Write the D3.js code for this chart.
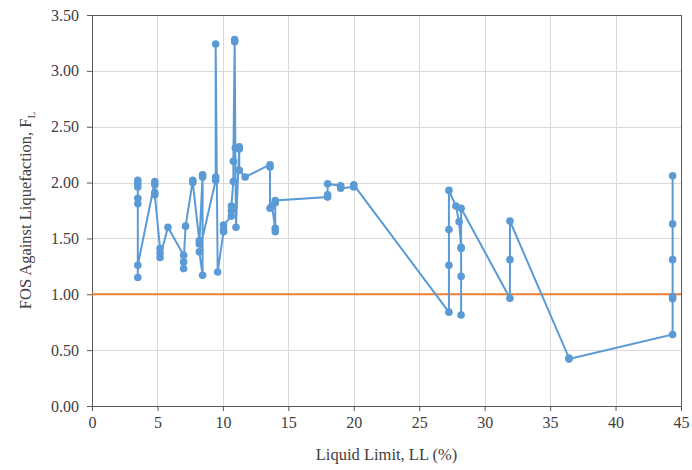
<!DOCTYPE html>
<html>
<head>
<meta charset="utf-8">
<script src="https://cdn.jsdelivr.net/npm/d3@7"></script>
<style>
  body { margin: 0; background: #fff; }
  text { font-family: "Liberation Serif", "Times New Roman", serif; fill: #404040; }
</style>
</head>
<body>
<div id="chart"></div>
<script>
// points in series order (liquid limit, FOS)
var liquidLimit = [
  3.5, 3.5, 3.5, 3.5, 3.5, 3.5, 3.5,
  4.8, 4.8, 4.8, 4.8,
  5.2, 5.2, 5.2,
  5.8,
  7.0, 7.0, 7.0,
  7.15,
  7.7, 7.7,
  8.2, 8.2,
  8.45, 8.45, 8.45,
  8.2,
  9.45, 9.45, 9.45,
  9.6,
  10.05, 10.05, 10.05,
  10.65, 10.65, 10.65,
  10.8, 10.8,
  10.9, 10.9,
  10.95,
  11.0,
  11.25, 11.25, 11.25,
  11.7,
  13.6, 13.6, 13.6,
  13.75,
  14.0, 14.0, 14.0, 14.0,
  18.0, 18.0, 18.0,
  19.0, 19.0,
  20.0, 20.0,
  27.27, 27.27, 27.27, 27.27,
  27.8,
  28.05,
  28.2, 28.2, 28.2, 28.2, 28.2,
  31.93, 31.93, 31.93,
  36.44, 36.44,
  44.36, 44.36, 44.36, 44.36, 44.36, 44.36
];
var fos = [
  2.02, 1.99, 1.96, 1.86, 1.81, 1.15, 1.26,
  2.01, 1.98, 1.91, 1.89,
  1.41, 1.37, 1.33,
  1.60,
  1.35, 1.23, 1.29,
  1.61,
  2.02, 2.00,
  1.48, 1.45,
  2.07, 2.05, 1.17,
  1.38,
  2.02, 2.05, 3.24,
  1.20,
  1.56, 1.58, 1.62,
  1.70, 1.75, 1.79,
  2.01, 2.19,
  3.26, 3.28,
  2.31,
  1.60,
  2.32, 2.30, 2.11,
  2.05,
  2.16, 2.14, 1.77,
  1.79,
  1.59, 1.56, 1.82, 1.84,
  1.87, 1.89, 1.99,
  1.97, 1.95,
  1.96, 1.98,
  0.84, 1.26, 1.58, 1.93,
  1.79,
  1.65,
  1.42, 1.41, 1.16, 0.815, 1.77,
  0.965, 1.31, 1.656,
  0.43, 0.42,
  0.64, 0.96, 0.98, 1.31, 1.63, 2.06
];
var limitFos = 1.0;
var xTicks = [0, 5, 10, 15, 20, 25, 30, 35, 40, 45];
var yTicks = [0, 0.5, 1, 1.5, 2, 2.5, 3, 3.5];

var serif = "'Liberation Serif', 'Times New Roman', serif";
var width = 692,
  height = 470;
var margin = { top: 15, right: 11, bottom: 64, left: 92 };
var graphWidth = width - margin.left - margin.right,
  graphHeight = height - margin.top - margin.bottom;

var data = liquidLimit.map(function (d, i) {
  return { ll: d, fos: fos[i] };
});

var svg = d3.select("#chart").append("svg").attr("width", width).attr("height", height);
var graph = svg
  .append("g")
  .attr("transform", "translate(" + margin.left + "," + margin.top + ")");

var x = d3.scaleLinear().domain([0, 45]).range([0, graphWidth]);
var y = d3.scaleLinear().domain([0, 3.5]).range([graphHeight, 0]);

// gridlines
graph
  .append("g")
  .selectAll("line")
  .data(yTicks)
  .enter()
  .append("line")
  .attr("x1", 0)
  .attr("x2", graphWidth)
  .attr("y1", function (d) { return Math.round(y(d)) + 0.5; })
  .attr("y2", function (d) { return Math.round(y(d)) + 0.5; })
  .attr("stroke", "#d9d9d9");
graph
  .append("g")
  .selectAll("line")
  .data(xTicks)
  .enter()
  .append("line")
  .attr("y1", 0)
  .attr("y2", graphHeight)
  .attr("x1", function (d) { return Math.round(x(d)) + 0.5; })
  .attr("x2", function (d) { return Math.round(x(d)) + 0.5; })
  .attr("stroke", "#d9d9d9");

// plot frame
graph
  .append("rect")
  .attr("x", 0.5)
  .attr("y", 0.5)
  .attr("width", graphWidth)
  .attr("height", graphHeight)
  .attr("fill", "none")
  .attr("stroke", "#595959");

var gXAxis = graph.append("g").attr("transform", "translate(0," + graphHeight + ")");
var gYAxis = graph.append("g");
gXAxis.call(d3.axisBottom(x).tickValues(xTicks).tickSize(5).tickPadding(6).tickFormat(d3.format("d")));
gYAxis.call(d3.axisLeft(y).tickValues(yTicks).tickSize(5).tickPadding(8).tickFormat(d3.format(".2f")));
[gXAxis, gYAxis].forEach(function (g) {
  g.attr("font-family", serif).attr("font-size", 16);
  g.selectAll("path, line").attr("stroke", "#595959");
  g.selectAll("text").attr("fill", "#404040");
});

// FOS = 1 line
graph
  .append("line")
  .attr("x1", 0)
  .attr("x2", graphWidth)
  .attr("y1", y(limitFos))
  .attr("y2", y(limitFos))
  .attr("stroke", "#ed7d31")
  .attr("stroke-width", 2);

var line = d3
  .line()
  .x(function (d) { return x(d.ll); })
  .y(function (d) { return y(d.fos); });
graph
  .append("path")
  .datum(data)
  .attr("d", line)
  .attr("fill", "none")
  .attr("stroke", "#5b9bd5")
  .attr("stroke-width", 2);
graph
  .append("g")
  .selectAll("circle")
  .data(data)
  .enter()
  .append("circle")
  .attr("cx", function (d) { return x(d.ll); })
  .attr("cy", function (d) { return y(d.fos); })
  .attr("r", 3.8)
  .attr("fill", "#5b9bd5");

// axis titles
svg
  .append("text")
  .attr("x", margin.left + graphWidth / 2)
  .attr("y", 460)
  .attr("text-anchor", "middle")
  .style("font-size", "16.5px")
  .text("Liquid Limit, LL (%)");
var yTitle = svg
  .append("text")
  .attr("transform", "translate(31," + (margin.top + graphHeight / 2) + ") rotate(-90)")
  .attr("text-anchor", "middle")
  .style("font-size", "16.5px");
yTitle.append("tspan").text("FOS Against Liquefaction, F");
yTitle.append("tspan").attr("dy", 4).style("font-size", "11px").text("L");
</script>
</body>
</html>
